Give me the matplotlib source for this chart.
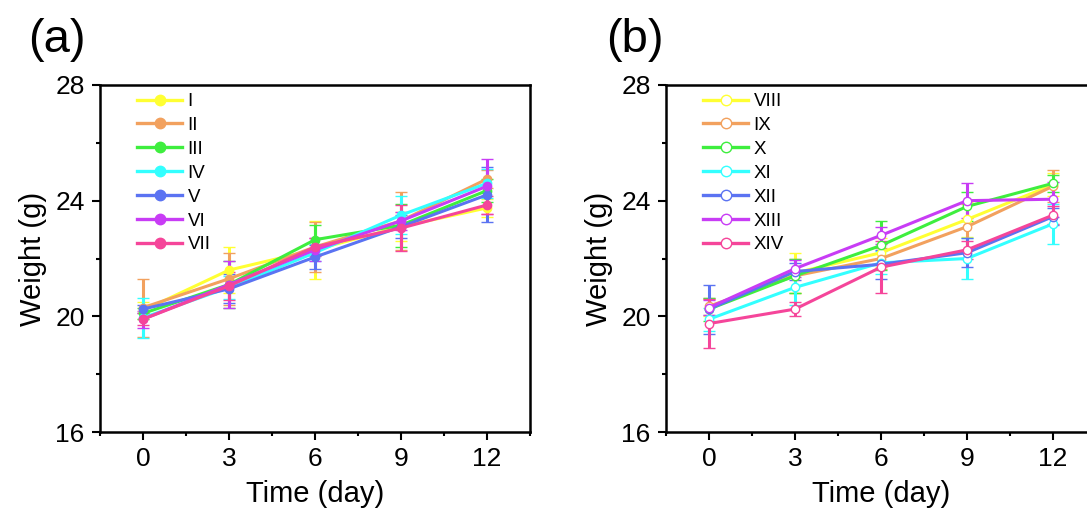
import matplotlib
matplotlib.use("Agg")
import matplotlib.pyplot as plt
from matplotlib.ticker import MultipleLocator
from matplotlib.lines import Line2D

plt.rcParams['font.family'] = ['Liberation Sans', 'DejaVu Sans']

days = [0, 3, 6, 9, 12]
colors = ['#FFFF33', '#F2A15E', '#3EEE3E', '#33FFFF', '#5B73F2', '#C83CF5', '#F5459A']

labels_a = ['I', 'II', 'III', 'IV', 'V', 'VI', 'VII']
means_a = [
    [20.2, 21.6, 22.3, 23.1, 23.75],
    [20.3, 21.3, 22.4, 23.3, 24.75],
    [20.1, 21.1, 22.65, 23.15, 24.35],
    [19.95, 21.0, 22.2, 23.5, 24.6],
    [20.25, 20.95, 22.05, 23.1, 24.2],
    [19.9, 21.1, 22.3, 23.3, 24.5],
    [19.9, 21.05, 22.4, 23.05, 23.85],
]
errs_a = [
    [0.3, 0.8, 1.0, 0.5, 0.3],
    [1.0, 0.9, 0.85, 1.0, 0.3],
    [0.2, 0.8, 0.5, 0.75, 0.4],
    [0.7, 0.4, 0.3, 0.65, 0.5],
    [0.15, 0.5, 0.4, 0.4, 0.95],
    [0.3, 0.8, 0.4, 0.3, 0.95],
    [0.2, 0.5, 0.3, 0.8, 0.3],
]

labels_b = ['VIII', 'IX', 'X', 'XI', 'XII', 'XIII', 'XIV']
means_b = [
    [20.3, 21.5, 22.2, 23.35, 24.55],
    [20.35, 21.4, 22.0, 23.1, 24.5],
    [20.25, 21.4, 22.45, 23.8, 24.6],
    [19.9, 21.0, 21.85, 22.0, 23.2],
    [20.25, 21.55, 21.8, 22.2, 23.45],
    [20.3, 21.65, 22.8, 24.0, 24.05],
    [19.75, 20.25, 21.7, 22.3, 23.5],
]
errs_b = [
    [0.3, 0.7, 0.5, 0.6, 0.4],
    [0.3, 0.6, 0.35, 0.8, 0.55],
    [0.4, 0.6, 0.85, 0.5, 0.3],
    [0.4, 0.6, 0.4, 0.7, 0.7],
    [0.85, 0.3, 0.5, 0.5, 0.3],
    [0.25, 0.3, 0.3, 0.6, 0.6],
    [0.85, 0.25, 0.9, 0.3, 0.3],
]

fig = plt.figure(figsize=(10.87, 5.2), dpi=100)
W, H = 1087, 520


def axes_px(left, right, top, bottom):
    return fig.add_axes([left / W, 1 - bottom / H, (right - left) / W, (bottom - top) / H])


ax_a = axes_px(100, 530, 85, 432)
ax_b = axes_px(666, 1096, 85, 432)


def draw_panel(ax, labels, means, errs, open_marker):
    handles = []
    for lab, m, e, c in zip(labels, means, errs, colors):
        face = 'white' if open_marker else c
        ax.errorbar(days, m, yerr=e, color=c, lw=2.2, elinewidth=2.2,
                    capsize=4.5, capthick=2.2, marker='o', ms=6,
                    mfc=face, mec=c, mew=1)
        handles.append(Line2D([], [], color=c, lw=2.4, marker='o', ms=7.5,
                              mfc=face, mec=c, mew=1, label=lab))
    ax.set_xlim(-1.5, 13.5)
    ax.set_ylim(16, 28)
    ax.xaxis.set_major_locator(MultipleLocator(3))
    ax.xaxis.set_minor_locator(MultipleLocator(1.5))
    ax.yaxis.set_major_locator(MultipleLocator(4))
    ax.yaxis.set_minor_locator(MultipleLocator(2))
    ax.tick_params(which='major', direction='out', length=6, width=1.5,
                   labelsize=19, top=False, right=False, pad=5)
    ax.tick_params(which='minor', direction='out', length=3, width=1.5,
                   top=False, right=False)
    for s in ax.spines.values():
        s.set_linewidth(1.8)
    ax.set_xlabel('Time (day)', fontsize=21, labelpad=6)
    ax.set_ylabel('Weight (g)', fontsize=21, labelpad=6)
    ax.legend(handles=handles, loc='upper left', frameon=False, fontsize=13.5,
              handlelength=2.4, labelspacing=0.36, handletextpad=0.3,
              borderaxespad=0.0, borderpad=0.0,
              bbox_to_anchor=(37 / 430, 1 - 8 / 347))


draw_panel(ax_a, labels_a, means_a, errs_a, False)
draw_panel(ax_b, labels_b, means_b, errs_b, True)

fig.text(57 / W, 1 - 40 / H, '(a)', fontsize=34, ha='center', va='center')
fig.text(635 / W, 1 - 40 / H, '(b)', fontsize=34, ha='center', va='center')

fig.savefig('out.png', dpi=100)
